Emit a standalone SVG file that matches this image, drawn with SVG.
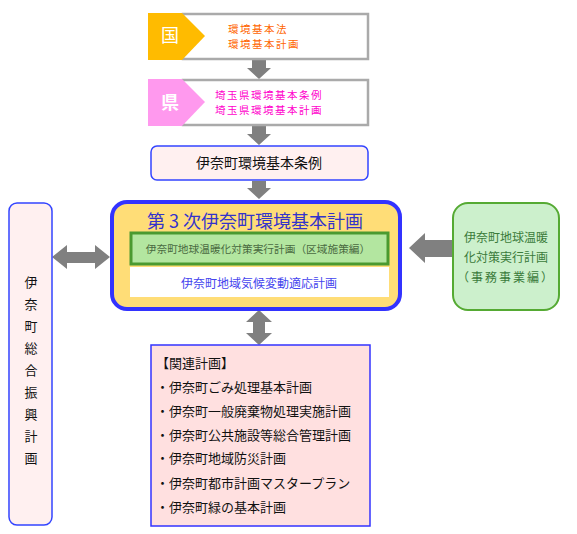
<svg xmlns="http://www.w3.org/2000/svg" width="577" height="534" viewBox="0 0 577 534">
<style>
text{font-family:"Noto Sans CJK JP","Noto Sans CJK SC",sans-serif;}
.gbox{fill:#fff;stroke:#aaaaaa;stroke-width:2.5;}
.arr{fill:#808080;}
.pinkbox{fill:#fff0f0;stroke:#3344ff;stroke-width:1.5;}
</style>
<rect width="577" height="534" fill="#fff"/>
<g id="connectors">
  <polygon class="arr" points="252,60 266,60 266,68 271,68 259,79 247,68 252,68"/>
  <polygon class="arr" points="252,126 266,126 266,134 271,134 259,145 247,134 252,134"/>
  <polygon class="arr" points="252,181 266,181 266,188 271,188 259,199 247,188 252,188"/>
  <polygon class="arr" points="259,310 272,322 265,322 265,333 272,333 259,345 246,333 253,333 253,322 246,322"/>
  <polygon class="arr" points="52,257 67,245 67,252 95,252 95,245 110,257 95,269 95,263 67,263 67,269"/>
  <polygon class="arr" points="409,248 425,233 425,240 452,240 452,257 425,257 425,263"/>
</g>
<g id="kuni">
  <rect class="gbox" x="183" y="14" width="185" height="45"/>
  <polygon points="148,13 182,13 205,36 182,60 148,60" fill="#ffbb00"/>
  <text x="170" y="42" font-size="18" fill="#fff" text-anchor="middle">国</text>
  <text x="228" y="33" font-size="10.5" letter-spacing="1.5" fill="#ff6600">環境基本法</text>
  <text x="228" y="48" font-size="10.5" letter-spacing="1.5" fill="#ff6600">環境基本計画</text>
</g>
<g id="ken">
  <rect class="gbox" x="183" y="80" width="185" height="45"/>
  <polygon points="148,79 182,79 205,102 182,126 148,126" fill="#ff99ee"/>
  <text x="170" y="109" font-size="18" fill="#fff" text-anchor="middle" font-weight="bold">県</text>
  <text x="215" y="99" font-size="10.5" letter-spacing="1.5" fill="#ff00cc">埼玉県環境基本条例</text>
  <text x="215" y="114" font-size="10.5" letter-spacing="1.5" fill="#ff00cc">埼玉県環境基本計画</text>
</g>
<g id="jourei">
  <rect class="pinkbox" x="151" y="146" width="217" height="34" rx="6"/>
  <text x="259" y="168" font-size="14" fill="#111" text-anchor="middle">伊奈町環境基本条例</text>
</g>
<g id="main">
  <rect x="112" y="202" width="288" height="107" rx="15" fill="#ffdd77" stroke="#3333ff" stroke-width="4"/>
  <text x="255" y="228" font-size="18" fill="#3333cc" text-anchor="middle">第 3 次伊奈町環境基本計画</text>
  <rect x="131" y="233" width="257" height="31" fill="#b3e6a0" stroke="#4a9a30" stroke-width="3"/>
  <text x="258" y="253" font-size="10.7" fill="#4a6a40" text-anchor="middle">伊奈町地球温暖化対策実行計画（区域施策編）</text>
  <rect x="130" y="267" width="259" height="30" fill="#fff"/>
  <text x="259" y="288" font-size="12" fill="#4444ee" text-anchor="middle">伊奈町地域気候変動適応計画</text>
</g>
<g id="sougou">
  <rect class="pinkbox" x="9" y="203" width="43" height="322" rx="8"/>
  <g font-size="13" fill="#111" text-anchor="middle">
    <text x="31" y="287">伊</text>
    <text x="31" y="309">奈</text>
    <text x="31" y="331">町</text>
    <text x="31" y="353">総</text>
    <text x="31" y="375">合</text>
    <text x="31" y="397">振</text>
    <text x="31" y="419">興</text>
    <text x="31" y="441">計</text>
    <text x="31" y="463">画</text>
  </g>
</g>
<g id="jimu">
  <rect x="453" y="203" width="106" height="107" rx="15" fill="#ccf0cc" stroke="#55aa33" stroke-width="2"/>
  <text x="506" y="242" font-size="12" fill="#3a7a3a" text-anchor="middle">伊奈町地球温暖</text>
  <text x="506" y="262" font-size="12" fill="#3a7a3a" text-anchor="middle">化対策実行計画</text>
  <text x="506" y="282" font-size="12" fill="#3a7a3a" text-anchor="middle" letter-spacing="2">（事務事業編）</text>
</g>
<g id="kanren">
  <rect x="151" y="345" width="219" height="181" fill="#ffe0e0" stroke="#3333ff" stroke-width="1.5"/>
  <g font-size="13" fill="#111">
    <text x="156" y="368">【関連計画】</text>
    <text x="156" y="392">・伊奈町ごみ処理基本計画</text>
    <text x="156" y="416">・伊奈町一般廃棄物処理実施計画</text>
    <text x="156" y="440">・伊奈町公共施設等総合管理計画</text>
    <text x="156" y="463">・伊奈町地域防災計画</text>
    <text x="156" y="488">・伊奈町都市計画マスタープラン</text>
    <text x="156" y="512">・伊奈町緑の基本計画</text>
  </g>
</g>
</svg>
